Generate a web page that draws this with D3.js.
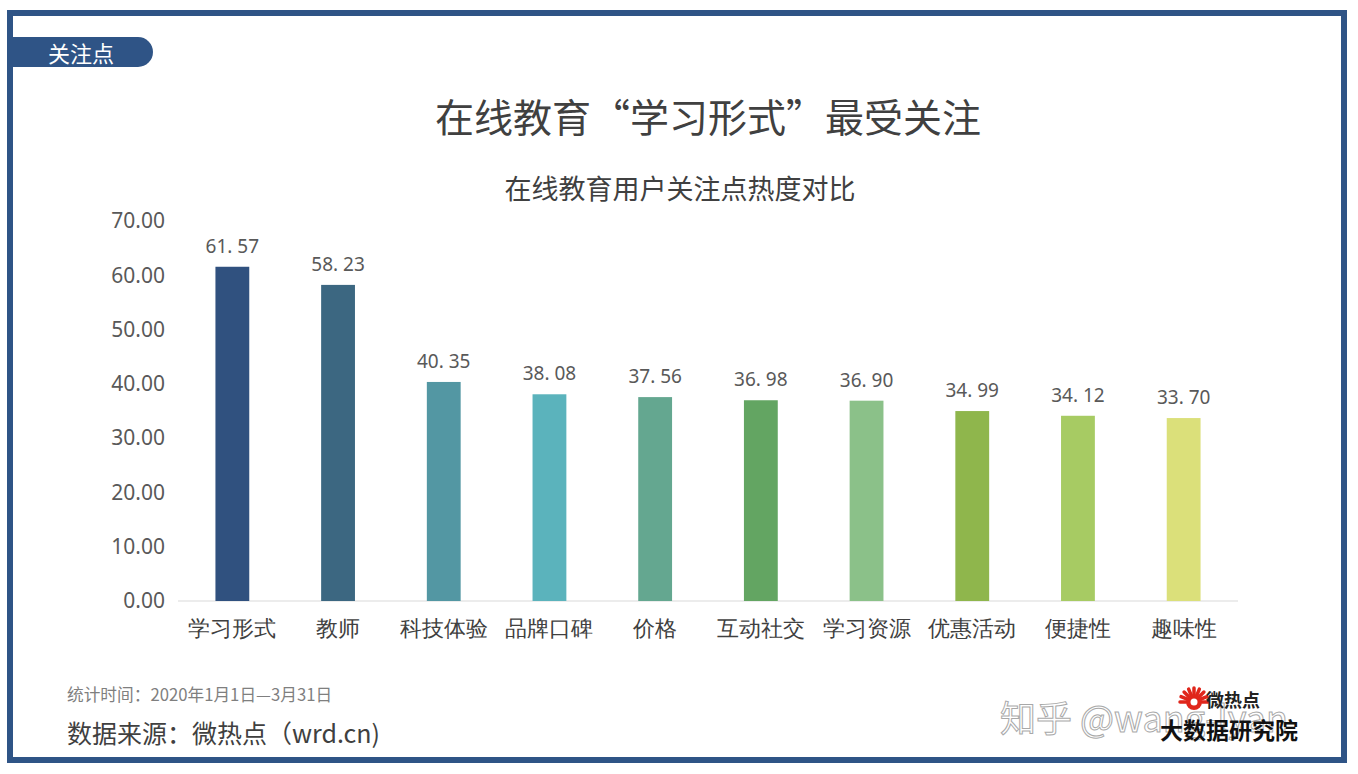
<!DOCTYPE html>
<html>
<head>
<meta charset="utf-8">
<script src="https://cdn.jsdelivr.net/npm/d3@7"></script>
<style>
  html, body { margin: 0; padding: 0; background: #ffffff; }
  svg { display: block; font-family: "Noto Sans CJK SC", "Noto Sans", sans-serif; }
</style>
</head>
<body>
<svg id="chart" width="1358" height="774"></svg>
<script>
const categories = ["学习形式", "教师", "科技体验", "品牌口碑", "价格", "互动社交", "学习资源", "优惠活动", "便捷性", "趣味性"];
const values = [61.57, 58.23, 40.35, 38.08, 37.56, 36.98, 36.90, 34.99, 34.12, 33.70];
const barColors = ["#30517f", "#3c6781", "#5397a3", "#5bb3bc", "#64a790", "#63a562", "#8bc189", "#8fb64c", "#a7cb63", "#dbe07a"];
const yTicks = [0, 10, 20, 30, 40, 50, 60, 70];

const svg = d3.select("#chart");
const frameColor = "#2f5486";

// outer frame
svg.append("rect").attr("x", 10).attr("y", 13).attr("width", 1334).attr("height", 747)
  .attr("fill", "#fff").attr("stroke", frameColor).attr("stroke-width", 6);

// badge
const bx0 = 10, bx1 = 153, by0 = 37, by1 = 67, r = (by1 - by0) / 2;
svg.append("path")
  .attr("d", `M${bx0},${by0} H${bx1 - r} A${r},${r} 0 0 1 ${bx1 - r},${by1} H${bx0} Z`)
  .attr("fill", frameColor);
svg.append("text").attr("x", 81).attr("y", 52).attr("text-anchor", "middle")
  .attr("dominant-baseline", "central").attr("fill", "#fff").attr("font-size", 22)
  .text("关注点");

// titles
svg.append("text").attr("x", 708).attr("y", 115).attr("text-anchor", "middle")
  .attr("dominant-baseline", "central").attr("fill", "#404040").attr("font-size", 39)
  .text("在线教育“学习形式”最受关注");
svg.append("text").attr("x", 680).attr("y", 187).attr("text-anchor", "middle")
  .attr("dominant-baseline", "central").attr("fill", "#404040").attr("font-size", 27)
  .text("在线教育用户关注点热度对比");

// scales
const x = d3.scaleBand().domain(categories).range([179.5, 1236.5]).paddingInner(0.68).paddingOuter(0.34);
const y = d3.scaleLinear().domain([0, 70]).range([601, 221]);

// y axis labels
const yAxis = d3.axisLeft(y).tickValues(yTicks).tickFormat(d3.format(".2f")).tickSize(0).tickPadding(0);
const gy = svg.append("g").attr("transform", "translate(165,0)").call(yAxis);
gy.select(".domain").remove();
gy.selectAll("text").attr("font-size", 21).attr("fill", "#595959")
  .attr("font-family", "\"Noto Sans\", \"Noto Sans CJK SC\", sans-serif");

// baseline
svg.append("line").attr("x1", 178).attr("x2", 1238).attr("y1", y(0)).attr("y2", y(0))
  .attr("stroke", "#d9d9d9").attr("stroke-width", 1.2);

// bars
svg.append("g").selectAll("rect").data(values).join("rect")
  .attr("x", (d, i) => x(categories[i]))
  .attr("width", x.bandwidth())
  .attr("y", d => y(d))
  .attr("height", d => y(0) - y(d))
  .attr("fill", (d, i) => barColors[i]);

// value labels
const fmt = d3.format(".2f");
svg.append("g").selectAll("text").data(values).join("text")
  .attr("x", (d, i) => x(categories[i]) + x.bandwidth() / 2)
  .attr("y", d => y(d) - 14)
  .attr("text-anchor", "middle")
  .attr("font-size", 19).attr("fill", "#595959")
  .attr("font-family", "\"Noto Sans\", \"Noto Sans CJK SC\", sans-serif")
  .text(d => fmt(d).replace(".", ". "));

// x axis labels
const xAxis = d3.axisBottom(x).tickSize(0).tickPadding(0);
const gx = svg.append("g").attr("transform", `translate(0,${y(0) + 20})`).call(xAxis);
gx.select(".domain").remove();
gx.selectAll("text").attr("font-size", 22).attr("fill", "#404040").attr("dy", "0.7em");

// footer
svg.append("text").attr("x", 67).attr("y", 694).attr("dominant-baseline", "central")
  .attr("font-size", 16.7).attr("fill", "#7f7f7f").text("统计时间：2020年1月1日—3月31日");
svg.append("text").attr("x", 67).attr("y", 732).attr("dominant-baseline", "central")
  .attr("font-size", 25).attr("fill", "#404040").text("数据来源：微热点（wrd.cn)");

// watermark
svg.append("text").attr("x", 1000).attr("y", 716).attr("dominant-baseline", "central")
  .attr("font-size", 36).attr("fill", "#ffffff").attr("stroke", "#9a9a9a").attr("stroke-width", 1)
  .attr("opacity", 0.85).attr("font-family", "\"Noto Sans CJK SC\", sans-serif")
  .text("知乎 @wang-lyan");

// logo
const logo = svg.append("g").attr("transform", "translate(1160,680)");
const sun = logo.append("g").attr("transform", "translate(34,22)");
d3.range(9).forEach(i => {
  const a = Math.PI + (i / 8) * Math.PI;
  sun.append("line").attr("x1", Math.cos(a) * 8).attr("y1", Math.sin(a) * 8)
    .attr("x2", Math.cos(a) * 14).attr("y2", Math.sin(a) * 14)
    .attr("stroke", "#e0261b").attr("stroke-width", 3.5).attr("stroke-linecap", "round");
});
sun.append("circle").attr("r", 8).attr("fill", "#e0261b");
sun.append("circle").attr("r", 3.5).attr("fill", "#fff");
logo.append("text").attr("x", 46).attr("y", 27).attr("font-size", 18).attr("font-weight", "bold")
  .attr("fill", "#222").text("微热点");
logo.append("text").attr("x", 0).attr("y", 59).attr("font-size", 23).attr("font-weight", "bold")
  .attr("fill", "#111").text("大数据研究院");
</script>
</body>
</html>
